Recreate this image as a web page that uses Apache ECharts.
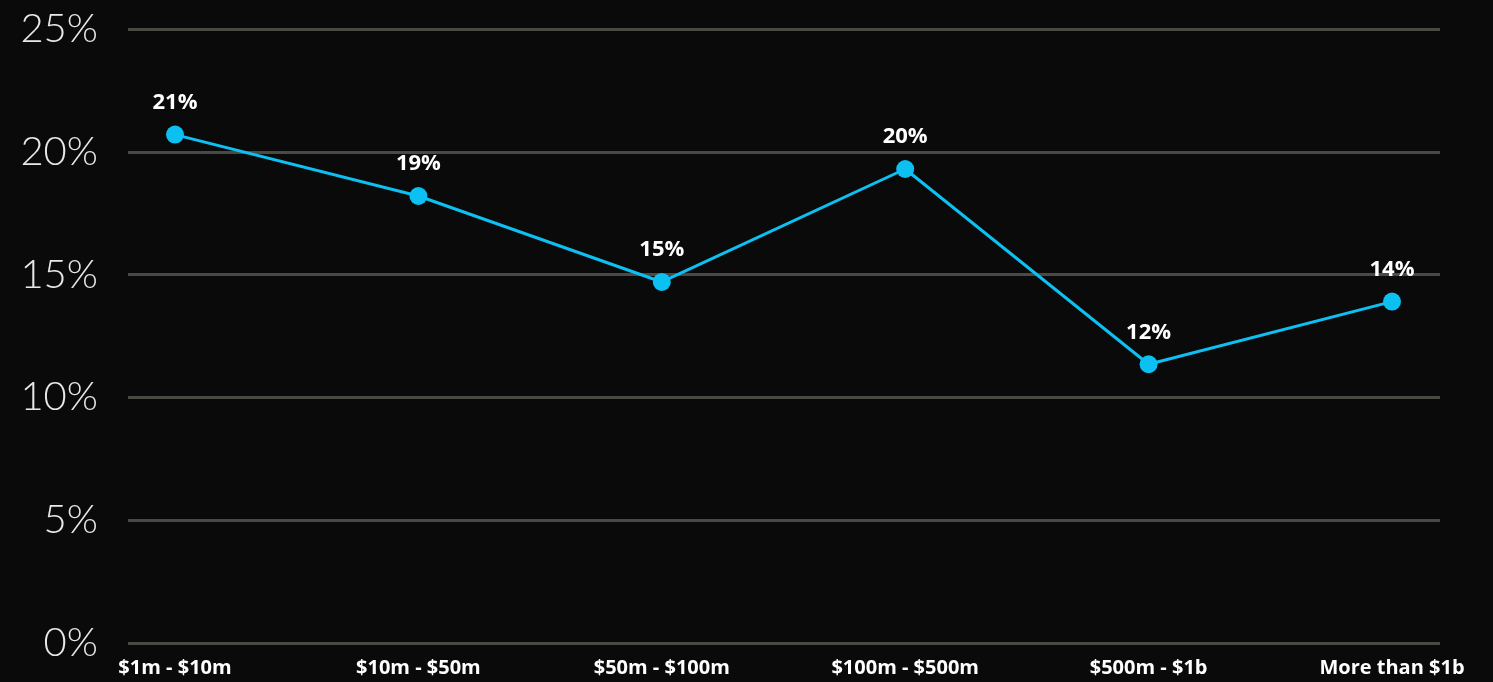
<!DOCTYPE html>
<html>
<head>
  <meta charset="utf-8">
  <title>Share by company size</title>
  <script src="https://cdn.jsdelivr.net/npm/echarts@6/dist/echarts.min.js"></script>
  <style>
    html, body { margin: 0; padding: 0; background: #0a0a0a; }
    #chart { width: 1493px; height: 682px; }
  </style>
</head>
<body>
<div id="chart"></div>
<script>
  // data
  var categories = ['$1m - $10m', '$10m - $50m', '$50m - $100m', '$100m - $500m', '$500m - $1b', 'More than $1b'];
  var shares = [20.7, 18.2, 14.7, 19.3, 11.35, 13.9];
  var pointLabels = ['21%', '19%', '15%', '20%', '12%', '14%'];
  var yTicks = [0, 5, 10, 15, 20, 25];

  var chart = echarts.init(document.getElementById('chart'));

  chart.setOption({
    backgroundColor: '#0a0a0a',
    animation: false,
    grid: [
      // line grid: points sit on the category ticks
      { left: 175, right: 101, top: 29, bottom: 39 },
      // background grid: wider grid lines + y labels
      { left: 128, right: 53, top: 29, bottom: 39 }
    ],
    xAxis: [
      {
        type: 'category',
        gridIndex: 0,
        boundaryGap: false,
        data: categories,
        axisLine: { show: false },
        axisTick: { show: false },
        axisLabel: {
          color: '#ffffff',
          fontFamily: 'Open Sans',
          fontWeight: 'bold',
          fontSize: 20,
          margin: 15
        },
        splitLine: { show: false }
      },
      {
        type: 'value',
        gridIndex: 1,
        show: false
      }
    ],
    yAxis: [
      {
        type: 'value',
        gridIndex: 0,
        min: 0,
        max: 25,
        show: false
      },
      {
        type: 'value',
        gridIndex: 1,
        min: yTicks[0],
        max: yTicks[yTicks.length - 1],
        interval: 5,
        axisLine: { show: false },
        axisTick: { show: false },
        axisLabel: {
          color: '#e8e8e8',
          fontFamily: 'Lato',
          fontWeight: 300,
          fontSize: 40,
          margin: 30,
          formatter: '{value}%'
        },
        splitLine: {
          lineStyle: { color: '#4a4a44', width: 3 }
        }
      }
    ],
    series: [
      {
        type: 'line',
        xAxisIndex: 0,
        yAxisIndex: 0,
        data: shares,
        symbol: 'circle',
        symbolSize: 18,
        lineStyle: { color: '#0cc0f2', width: 3 },
        itemStyle: { color: '#0cc0f2' },
        label: {
          show: true,
          position: 'top',
          distance: 12,
          color: '#ffffff',
          fontFamily: 'Open Sans',
          fontWeight: 'bold',
          fontSize: 22,
          formatter: function (p) { return pointLabels[p.dataIndex]; }
        },
        z: 5
      }
    ]
  });
</script>
</body>
</html>
